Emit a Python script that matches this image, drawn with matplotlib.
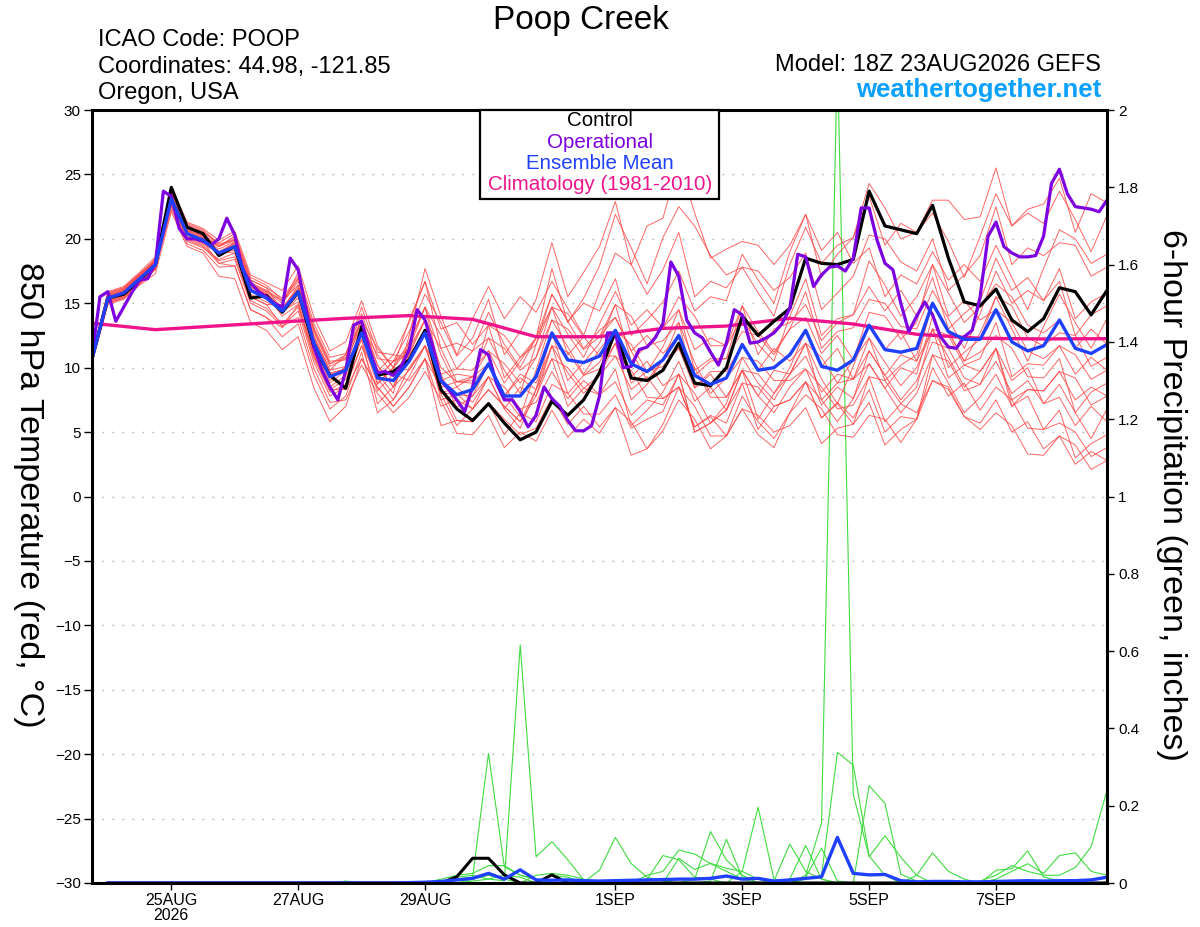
import numpy as np
import pandas as pd
import matplotlib
matplotlib.use("Agg")
import matplotlib.pyplot as plt
from matplotlib.patches import Rectangle

plt.rcParams['font.family'] = ['Liberation Sans', 'DejaVu Sans']

# ---------------- time axes ----------------
start = pd.Timestamp('2026-08-23 18:00')
times6 = pd.date_range(start, periods=65, freq='6h')
times3 = pd.date_range(start, periods=129, freq='3h')
precip_times = times6[1:]
clim_times = pd.date_range(start, periods=17, freq='24h')

tick_dates = pd.to_datetime(['2026-08-25', '2026-08-27', '2026-08-29', '2026-09-01',
                             '2026-09-03', '2026-09-05', '2026-09-07'])
tick_labels = ['25AUG\n2026', '27AUG', '29AUG', '1SEP', '3SEP', '5SEP', '7SEP']

# ---------------- 850 hPa temperature (C) ----------------
ens_mean = [10.7, 15.4, 15.8, 16.9, 18.0, 23.1, 20.4, 19.9, 18.9, 19.4, 16.0, 15.4, 14.4,
            15.9, 11.9, 9.3, 9.8, 12.7, 9.2, 9.0, 10.5, 12.7, 9.0, 7.9, 8.3, 10.3, 7.8, 7.8,
            9.3, 12.7, 10.6, 10.4, 10.9, 12.9, 10.3, 9.7, 10.6, 12.5, 9.4, 8.7, 9.2, 11.8,
            9.8, 10.0, 11.0, 12.9, 10.1, 9.8, 10.6, 13.3, 11.4, 11.2, 11.5, 15.0, 12.8, 12.2,
            12.2, 14.5, 12.0, 11.3, 11.7, 13.7, 11.5, 11.1, 11.8]

control = [10.7, 15.4, 15.7, 16.8, 18.0, 24.0, 20.9, 20.4, 18.7, 19.4, 15.4, 15.6, 14.3,
           15.9, 11.6, 9.4, 8.4, 13.2, 9.4, 9.7, 10.6, 12.9, 8.3, 6.8, 5.9, 7.2, 5.7, 4.4,
           5.0, 7.4, 6.3, 7.5, 9.6, 12.8, 9.2, 9.0, 9.8, 11.9, 8.8, 8.6, 10.0, 14.0, 12.5,
           13.6, 14.6, 18.5, 18.1, 18.0, 18.4, 23.7, 21.0, 20.7, 20.4, 22.6, 18.5, 15.1,
           14.8, 16.1, 13.7, 12.8, 13.8, 16.2, 15.9, 14.1, 16.0]

operational = [10.85, 15.5, 15.9, 13.6, 14.7, 15.8, 16.8, 16.9, 18.1, 23.7, 23.3, 20.8, 20.0,
               20.0, 19.8, 19.5, 20.0, 21.6, 20.3, 17.6, 16.6, 15.9, 15.5, 15.0, 14.7, 18.5,
               17.6, 14.5, 11.6, 9.8, 8.5, 7.5, 9.8, 13.3, 13.6, 11.4, 9.6, 9.7, 9.4, 10.1,
               11.4, 14.5, 13.7, 11.6, 9.0, 8.3, 7.5, 6.6, 8.5, 11.4, 11.0, 8.8, 7.5, 7.5,
               6.6, 5.4, 6.3, 8.5, 7.6, 7.0, 5.9, 5.1, 5.1, 5.5, 7.8, 12.7, 12.7, 10.0, 10.1,
               11.4, 11.6, 12.3, 13.4, 18.2, 17.1, 13.7, 12.7, 12.3, 11.2, 10.2, 11.9, 14.5,
               14.1, 11.9, 12.0, 12.3, 12.7, 13.4, 14.6, 18.8, 18.6, 16.3, 17.2, 17.8, 17.9,
               17.5, 18.5, 22.4, 22.4, 19.9, 18.1, 17.6, 15.0, 12.8, 14.0, 15.1, 14.1, 12.4,
               11.6, 11.5, 12.4, 12.9, 15.5, 20.2, 21.3, 19.4, 18.9, 18.6, 18.6, 18.7, 20.2,
               24.3, 25.4, 23.5, 22.5, 22.4, 22.3, 22.1, 23.0]

climatology = [13.45, 12.95, 13.25, 13.55, 13.83, 14.04, 13.75, 12.4, 12.4, 13.05, 13.23,
               13.83, 13.39, 12.59, 12.28, 12.23, 12.25]

member_01 = [10.9, 15.7, 16.1, 17.2, 18.4, 23.6, 20.9, 20.4, 19.4, 19.9, 16.5, 15.9, 15.2, 16.9, 12.9, 10.3, 11.0, 14.2, 10.7, 10.5, 12.8, 15.7, 13.5, 10.9, 12.3, 15.3, 11.0, 12.8, 15.3, 19.7, 15.5, 17.4, 19.4, 22.9, 18.0, 21.0, 21.6, 26.0, 22.0, 18.5, 19.2, 19.8, 19.5, 18.0, 19.5, 21.9, 17.0, 18.8, 20.1, 23.3, 19.5, 21.2, 20.5, 23.0, 23.0, 21.5, 21.7, 25.5, 21.0, 22.3, 22.7, 24.7, 20.5, 23.5, 22.8]
member_02 = [10.5, 15.2, 15.6, 16.7, 17.7, 22.6, 19.9, 19.4, 18.1, 18.4, 15.0, 14.4, 13.2, 14.4, 10.4, 7.8, 8.5, 11.7, 9.5, 8.0, 12.5, 17.7, 14.0, 11.0, 13.8, 16.3, 13.8, 15.5, 14.3, 16.7, 14.6, 12.5, 15.9, 18.9, 18.0, 15.7, 17.6, 20.5, 15.5, 16.7, 16.2, 17.8, 15.8, 14.0, 18.0, 20.9, 18.1, 19.5, 20.1, 24.3, 22.4, 20.0, 20.5, 22.0, 19.8, 17.0, 20.2, 23.5, 21.0, 22.0, 21.2, 23.7, 21.5, 19.0, 21.8]
member_03 = [11.0, 15.8, 16.2, 17.3, 18.4, 23.9, 21.2, 20.7, 19.6, 19.9, 16.5, 15.9, 15.0, 16.7, 12.7, 10.1, 10.7, 13.7, 10.2, 8.5, 12.0, 14.7, 12.5, 9.9, 9.8, 11.3, 8.8, 10.5, 12.3, 17.7, 13.5, 15.4, 17.9, 21.9, 19.3, 16.5, 20.1, 22.5, 21.0, 18.7, 17.2, 17.8, 17.5, 16.0, 17.0, 18.9, 14.5, 15.8, 17.1, 20.3, 20.0, 18.2, 17.5, 20.0, 16.0, 17.2, 18.7, 22.5, 18.0, 19.3, 18.7, 19.7, 19.5, 17.1, 17.8]
member_04 = [10.4, 15.0, 15.4, 16.5, 17.6, 22.8, 20.1, 19.6, 18.9, 19.7, 16.3, 15.7, 14.3, 15.4, 11.4, 8.8, 9.8, 13.2, 11.0, 9.5, 11.2, 13.7, 10.0, 8.9, 9.0, 13.3, 12.5, 10.8, 12.3, 15.7, 13.6, 15.0, 14.4, 16.9, 12.5, 13.7, 15.1, 17.5, 14.4, 15.5, 15.2, 18.8, 16.8, 15.0, 19.0, 21.9, 19.1, 20.5, 18.1, 19.3, 15.5, 17.2, 16.5, 19.0, 16.8, 18.0, 16.7, 19.5, 17.0, 14.5, 17.7, 20.7, 20.0, 18.1, 18.8]
member_05 = [10.8, 15.6, 16.0, 17.1, 18.2, 23.3, 20.6, 20.1, 19.0, 19.1, 15.7, 15.1, 14.5, 16.4, 12.4, 9.8, 11.0, 14.7, 11.2, 11.0, 13.5, 16.7, 11.5, 11.9, 11.3, 12.3, 11.5, 9.8, 10.8, 13.7, 13.0, 11.4, 12.4, 14.9, 10.5, 11.7, 13.1, 15.5, 14.0, 11.7, 11.7, 13.8, 11.8, 10.5, 14.0, 16.9, 12.5, 13.8, 14.1, 16.3, 14.4, 16.0, 14.0, 17.0, 13.0, 14.2, 15.2, 18.5, 16.0, 17.0, 15.2, 16.7, 12.5, 14.1, 14.8]
member_06 = [10.5, 15.1, 15.5, 16.6, 17.7, 23.4, 20.7, 20.2, 19.4, 20.2, 16.8, 16.2, 15.4, 17.1, 13.1, 10.5, 10.6, 13.2, 9.7, 11.0, 10.8, 12.7, 9.0, 9.5, 9.3, 12.3, 9.8, 8.0, 11.8, 15.7, 13.6, 11.5, 12.9, 13.9, 11.3, 12.5, 11.1, 12.5, 9.4, 10.5, 10.7, 14.8, 11.0, 13.0, 13.5, 14.9, 12.1, 13.5, 14.1, 18.3, 16.4, 14.0, 15.5, 18.0, 15.8, 13.5, 14.7, 16.5, 15.5, 13.3, 12.7, 13.7, 11.5, 13.0, 11.8]
member_07 = [10.8, 15.5, 15.9, 17.0, 17.7, 22.3, 19.6, 19.1, 17.8, 17.9, 14.5, 13.9, 12.4, 13.4, 9.4, 6.8, 7.8, 11.2, 6.5, 7.5, 9.3, 11.7, 8.0, 8.0, 6.8, 8.3, 7.0, 5.8, 8.3, 12.7, 9.0, 10.4, 11.9, 14.9, 14.0, 11.7, 12.1, 13.5, 8.5, 9.7, 9.7, 11.8, 9.8, 11.5, 10.5, 11.9, 7.5, 8.8, 10.6, 14.3, 14.0, 12.2, 13.5, 18.0, 14.0, 15.2, 13.7, 14.5, 13.5, 11.3, 10.7, 11.7, 11.0, 9.1, 9.8]
member_08 = [10.9, 15.9, 16.3, 17.4, 18.6, 23.7, 21.0, 20.5, 19.7, 20.4, 17.0, 16.4, 15.2, 16.4, 12.4, 9.8, 10.1, 12.7, 9.2, 7.5, 10.0, 11.7, 9.5, 6.9, 7.8, 10.3, 7.8, 6.2, 9.8, 13.7, 11.6, 9.5, 11.4, 12.9, 11.8, 9.7, 10.1, 11.5, 8.4, 9.5, 7.7, 9.8, 6.0, 8.0, 10.0, 12.9, 10.1, 11.5, 9.1, 10.3, 8.4, 10.0, 9.5, 14.0, 10.0, 11.2, 12.2, 15.5, 13.0, 10.5, 13.2, 15.7, 13.5, 11.5, 13.8]
member_09 = [10.6, 15.3, 15.7, 16.8, 17.9, 22.9, 20.2, 19.7, 18.9, 19.6, 16.2, 15.6, 14.0, 14.9, 10.9, 8.3, 8.3, 10.7, 8.5, 7.0, 8.5, 10.7, 7.0, 7.5, 6.8, 9.3, 6.8, 8.5, 7.8, 10.7, 7.0, 8.4, 9.4, 11.9, 9.3, 10.5, 8.6, 9.5, 8.0, 5.7, 7.2, 10.8, 8.8, 7.5, 9.5, 10.9, 8.1, 9.5, 9.1, 12.3, 9.0, 10.2, 11.0, 15.0, 12.8, 10.5, 11.2, 12.5, 11.5, 9.3, 9.2, 10.7, 6.5, 8.1, 8.8]
member_10 = [10.7, 15.4, 15.8, 16.9, 18.2, 23.5, 20.8, 20.3, 19.0, 18.9, 15.5, 14.9, 14.9, 17.4, 13.4, 10.8, 11.1, 13.7, 10.2, 8.5, 11.0, 12.7, 7.5, 7.9, 7.8, 9.3, 8.5, 6.8, 7.3, 9.7, 7.6, 9.0, 7.9, 9.9, 5.5, 6.7, 8.1, 10.5, 7.4, 8.5, 6.7, 8.8, 8.5, 7.0, 7.5, 8.9, 7.5, 5.8, 7.6, 11.3, 9.4, 7.5, 9.0, 12.0, 11.5, 9.2, 8.7, 10.5, 8.0, 9.0, 7.2, 8.7, 6.5, 4.5, 6.8]
member_11 = [10.4, 14.9, 15.3, 16.4, 17.3, 22.1, 19.4, 18.9, 17.1, 16.9, 13.5, 12.9, 11.4, 12.4, 8.4, 5.8, 7.0, 10.7, 8.5, 7.0, 8.5, 10.7, 5.5, 5.9, 5.8, 7.3, 4.8, 6.5, 5.8, 8.7, 8.0, 6.4, 6.4, 7.9, 5.3, 6.0, 6.6, 9.5, 5.0, 5.7, 6.7, 9.8, 7.8, 6.5, 8.5, 9.9, 8.5, 6.8, 7.1, 9.3, 9.0, 7.2, 8.5, 13.0, 10.8, 8.5, 9.7, 11.5, 7.5, 8.3, 8.2, 9.7, 7.5, 8.5, 7.8]
member_12 = [10.9, 15.7, 16.1, 17.2, 18.2, 23.2, 20.5, 20.0, 18.9, 19.4, 16.0, 15.4, 14.6, 16.2, 12.2, 9.6, 9.9, 12.2, 8.7, 10.0, 9.8, 11.7, 8.0, 5.5, 6.8, 8.3, 7.0, 5.8, 7.8, 11.7, 9.6, 8.0, 9.4, 10.9, 9.8, 7.7, 7.6, 8.5, 5.4, 6.2, 4.7, 6.8, 4.8, 3.8, 6.5, 8.9, 6.1, 7.2, 5.6, 7.3, 4.0, 5.2, 6.0, 10.0, 7.8, 8.8, 6.7, 8.5, 7.5, 5.3, 5.2, 6.7, 3.0, 4.1, 4.8]
member_13 = [10.5, 15.2, 15.6, 16.7, 18.3, 23.8, 21.1, 20.6, 19.5, 20.0, 16.6, 16.0, 15.2, 16.9, 12.9, 10.3, 10.8, 13.7, 8.8, 10.0, 11.5, 13.7, 11.5, 8.9, 8.8, 10.3, 7.8, 9.2, 8.3, 10.7, 10.0, 8.4, 7.9, 8.9, 6.3, 7.5, 7.1, 9.5, 5.0, 5.7, 6.7, 9.8, 9.5, 8.0, 9.5, 11.9, 9.1, 7.2, 10.1, 13.3, 11.4, 12.8, 10.5, 13.0, 9.2, 10.2, 9.7, 11.5, 9.0, 10.0, 7.2, 7.7, 5.5, 7.0, 5.8]
member_14 = [10.9, 15.6, 16.0, 17.1, 18.1, 22.7, 20.0, 19.5, 18.3, 18.6, 15.2, 14.6, 13.4, 14.7, 10.7, 8.1, 8.7, 11.7, 8.2, 9.5, 9.0, 10.7, 8.5, 5.9, 5.8, 7.3, 6.0, 4.8, 5.3, 7.7, 5.6, 7.0, 5.4, 6.9, 5.8, 3.7, 5.1, 7.5, 6.0, 3.7, 4.7, 7.8, 5.8, 4.5, 6.5, 7.9, 6.8, 4.8, 4.6, 6.3, 6.0, 4.2, 6.0, 11.0, 8.8, 6.5, 7.7, 9.5, 7.0, 7.8, 5.2, 5.7, 5.0, 3.1, 3.8]
member_15 = [10.5, 15.1, 15.5, 16.6, 17.8, 23.1, 20.4, 19.9, 19.0, 19.7, 16.3, 15.7, 14.4, 15.6, 11.6, 9.0, 10.1, 13.7, 11.5, 10.0, 12.0, 14.7, 11.0, 8.5, 9.3, 10.3, 7.8, 9.5, 8.8, 11.7, 8.0, 9.4, 9.9, 11.9, 7.5, 8.7, 10.6, 13.5, 10.4, 8.0, 9.2, 10.8, 10.5, 9.0, 9.0, 9.9, 7.1, 8.5, 7.6, 10.3, 8.4, 6.5, 8.0, 11.0, 10.5, 8.2, 8.7, 11.5, 7.0, 8.3, 8.2, 9.7, 9.2, 7.1, 7.8]
member_16 = [10.8, 15.5, 15.9, 17.0, 18.5, 24.0, 21.3, 20.8, 19.9, 20.6, 17.2, 16.6, 16.0, 17.9, 13.9, 11.3, 12.0, 15.2, 11.7, 10.0, 13.7, 16.7, 13.0, 13.5, 11.8, 13.3, 9.2, 10.8, 11.8, 14.7, 14.2, 12.4, 12.4, 13.9, 11.3, 9.0, 10.6, 11.5, 10.0, 7.7, 7.7, 9.8, 7.8, 9.8, 9.5, 11.9, 10.8, 8.8, 9.1, 11.3, 9.4, 11.0, 10.5, 15.0, 12.8, 10.5, 12.7, 15.5, 14.8, 12.3, 11.7, 12.7, 12.5, 10.1, 10.8]
member_17 = [10.6, 15.4, 15.8, 16.9, 17.7, 22.5, 19.8, 19.3, 18.4, 18.9, 15.5, 14.9, 13.2, 13.9, 9.9, 7.3, 7.5, 10.2, 8.0, 6.5, 7.7, 9.7, 7.5, 4.9, 4.8, 6.3, 3.8, 5.0, 4.3, 6.7, 4.6, 6.0, 4.9, 6.9, 3.2, 3.7, 5.6, 8.5, 5.4, 6.3, 5.7, 8.8, 5.2, 7.0, 7.5, 8.9, 6.1, 7.3, 6.1, 8.3, 5.0, 6.2, 6.0, 9.0, 8.3, 6.2, 5.7, 7.5, 5.0, 5.8, 3.7, 4.7, 2.5, 3.5, 2.8]
member_18 = [10.9, 15.8, 16.2, 17.3, 18.3, 23.3, 20.6, 20.1, 19.2, 19.8, 16.4, 15.8, 14.7, 16.1, 12.1, 9.5, 9.9, 12.7, 9.2, 10.5, 11.0, 13.7, 8.5, 8.9, 9.3, 11.3, 10.3, 8.8, 10.8, 14.7, 12.6, 10.8, 13.4, 15.9, 13.3, 14.5, 13.1, 14.5, 9.8, 10.7, 10.7, 12.8, 12.5, 11.0, 13.0, 15.9, 11.5, 12.8, 13.1, 15.3, 15.0, 13.2, 13.0, 16.0, 13.8, 11.5, 14.2, 17.5, 15.0, 16.0, 15.2, 17.7, 13.8, 15.1, 15.8]
member_19 = [10.3, 15.0, 15.4, 16.5, 17.7, 23.0, 20.3, 19.8, 18.1, 17.9, 14.5, 13.9, 13.1, 14.9, 10.9, 8.3, 9.1, 12.2, 7.2, 8.5, 9.8, 11.7, 8.0, 8.5, 7.3, 9.3, 6.8, 5.3, 8.3, 11.7, 11.2, 9.4, 10.4, 12.9, 8.8, 9.7, 11.6, 14.5, 11.4, 12.3, 11.7, 14.8, 12.8, 11.2, 13.0, 13.9, 11.1, 12.5, 10.6, 12.3, 10.4, 8.6, 10.0, 13.0, 12.5, 10.2, 10.7, 13.5, 9.3, 10.3, 10.2, 11.7, 9.5, 10.8, 9.8]
member_20 = [10.9, 15.6, 16.0, 17.1, 18.3, 23.4, 20.7, 20.2, 19.4, 20.2, 16.8, 16.2, 14.4, 15.1, 11.1, 8.5, 9.4, 12.7, 9.2, 10.5, 11.5, 14.7, 9.5, 9.9, 11.3, 14.3, 11.8, 10.0, 12.3, 14.7, 11.0, 12.4, 10.9, 10.9, 8.3, 9.3, 7.6, 8.5, 7.0, 4.7, 4.7, 6.8, 6.3, 5.0, 5.5, 6.9, 4.1, 5.3, 5.6, 9.3, 5.8, 7.2, 6.5, 9.0, 8.5, 6.2, 5.2, 6.5, 5.5, 3.3, 3.2, 4.7, 4.0, 2.1, 2.8]

members = [member_01, member_02, member_03, member_04, member_05, member_06, member_07,
           member_08, member_09, member_10, member_11, member_12, member_13, member_14,
           member_15, member_16, member_17, member_18, member_19, member_20]

# ---------------- 6-hour precipitation (inches), steps 1..64 ----------------
precip_mean = [0.0] * 19 + [0.001, 0.002, 0.004, 0.008, 0.012, 0.025, 0.010, 0.034, 0.008,
               0.007, 0.008, 0.006, 0.005, 0.006, 0.007, 0.008, 0.009, 0.010, 0.010, 0.012,
               0.018, 0.010, 0.012, 0.005, 0.008, 0.012, 0.016, 0.118, 0.025, 0.021, 0.022,
               0.006, 0.003, 0.004, 0.004, 0.003, 0.003, 0.004, 0.005, 0.006, 0.005, 0.006,
               0.006, 0.008, 0.015]
precip_control_nonzero = {23: 0.016, 24: 0.064, 25: 0.064, 26: 0.021, 29: 0.021}

# nonzero 6-h totals for each ensemble member, keyed by forecast step (6 h each)
precip_members_nonzero = [
    {24: 0.005, 25: 0.01, 26: 0.006, 27: 0.616, 28: 0.068, 29: 0.107, 30: 0.06, 31: 0.008, 32: 0.004},
    {22: 0.004, 23: 0.01, 24: 0.015, 25: 0.335, 26: 0.042, 27: 0.02, 28: 0.01},
    {22: 0.01, 23: 0.02, 24: 0.025, 25: 0.045, 26: 0.045, 27: 0.02, 28: 0.01},
    {23: 0.015, 24: 0.02, 25: 0.01, 26: 0.02, 27: 0.015, 29: 0.02, 30: 0.015},
    {24: 0.01, 25: 0.02, 26: 0.01, 28: 0.02, 29: 0.025, 30: 0.02, 31: 0.01},
    {31: 0.002, 32: 0.033, 33: 0.118, 34: 0.05, 35: 0.015, 36: 0.005},
    {35: 0.01, 36: 0.071, 37: 0.06, 38: 0.015, 39: 0.01},
    {35: 0.02, 36: 0.03, 37: 0.085, 38: 0.075, 39: 0.05, 40: 0.03, 41: 0.01},
    {37: 0.064, 38: 0.035, 39: 0.051, 40: 0.038, 41: 0.03, 42: 0.01},
    {38: 0.01, 39: 0.133, 40: 0.06, 41: 0.02},
    {39: 0.005, 40: 0.113, 41: 0.015, 42: 0.01},
    {41: 0.03, 42: 0.196, 43: 0.01},
    {43: 0.005, 44: 0.101, 45: 0.03, 46: 0.01},
    {44: 0.01, 45: 0.097, 46: 0.01},
    {45: 0.02, 46: 0.155, 47: 2.15, 48: 0.23, 49: 0.068, 50: 0.122, 51: 0.067, 52: 0.02},
    {45: 0.01, 46: 0.02, 47: 0.338, 48: 0.305, 49: 0.07, 50: 0.02},
    {45: 0.015, 46: 0.09, 47: 0.005, 49: 0.252, 50: 0.206, 51: 0.023, 52: 0.005},
    {52: 0.02, 53: 0.078, 54: 0.03, 55: 0.01, 57: 0.033, 58: 0.037, 59: 0.083, 60: 0.016, 61: 0.005},
    {56: 0.005, 57: 0.02, 58: 0.045, 59: 0.03, 60: 0.02, 61: 0.02, 62: 0.04, 63: 0.094, 64: 0.24},
    {16: 0.005, 57: 0.01, 58: 0.03, 59: 0.05, 60: 0.025, 61: 0.071, 62: 0.078, 63: 0.03, 64: 0.02},
]


def steps_to_series(nonzero):
    vals = np.zeros(64)
    for step, v in nonzero.items():
        vals[step - 1] = v
    return vals


# ---------------- colours ----------------
C_RED = '#ff4a4a'
C_GREEN = '#3fdc3f'
C_PURPLE = '#7d00e0'
C_BLUE = '#2040ff'
C_PINK = '#f0148c'
C_WEB = '#0aa0ff'

fig = plt.figure(figsize=(12, 9.27), dpi=100)
rect = [92 / 1200, 1 - 883 / 927, (1107 - 92) / 1200, (883 - 110) / 927]
ax = fig.add_axes(rect)
ax2 = ax.twinx()
ax.set_zorder(ax2.get_zorder() + 1)
ax.patch.set_visible(False)
ax2.patch.set_visible(False)

# precipitation (right axis)
for nz in precip_members_nonzero:
    ax2.plot(precip_times, steps_to_series(nz), color=C_GREEN, lw=0.8)
ax2.plot(precip_times, steps_to_series(precip_control_nonzero), color='black', lw=2.2)
ax2.plot(precip_times, precip_mean, color=C_BLUE, lw=2.4)
ax2.set_ylim(0, 2)
ax2.set_yticks(np.arange(0, 2.01, 0.2))
ax2.set_yticklabels(['0', '0.2', '0.4', '0.6', '0.8', '1', '1.2', '1.4', '1.6', '1.8', '2'])
for s in ax2.spines.values():
    s.set_visible(False)
ax2.tick_params(axis='y', direction='out', length=5, width=1, labelsize=11, pad=3)

# temperatures (left axis)
for m in members:
    ax.plot(times6, m, color=C_RED, lw=0.7, alpha=0.85)
ax.plot(clim_times, climatology, color=C_PINK, lw=2.4)
ax.plot(times6, control, color='black', lw=2.3)
ax.plot(times3, operational, color=C_PURPLE, lw=2.3)
ax.plot(times6, ens_mean, color=C_BLUE, lw=2.4)

ax.set_ylim(-30, 30)
ax.set_yticks(np.arange(-30, 31, 5))
ax.set_xlim(times6[0], times6[-1])
ax.set_xticks(tick_dates)
ax.set_xticklabels(tick_labels, linespacing=1.05)
ax.tick_params(axis='y', direction='out', length=6, width=1, labelsize=11, pad=2)
ax.tick_params(axis='x', direction='out', length=5, width=1, labelsize=11.5, pad=2)
for y in np.arange(-25, 26, 5):
    ax.axhline(y, color='#b4b4b4', lw=1.0, ls=(0, (1.2, 6)), zorder=0.5)
for s in ax.spines.values():
    s.set_linewidth(2.2)
    s.set_color('black')

# axis titles
fig.text(28 / 1200, 1 - 495 / 927, '850 hPa Temperature (red, °C)', rotation=270,
         ha='center', va='center', fontsize=24.5)
fig.text(1172 / 1200, 1 - 495 / 927, '6-hour Precipitation (green, inches)', rotation=270,
         ha='center', va='center', fontsize=24.5)

# header
fig.text(581 / 1200, 1 - 29.5 / 927, 'Poop Creek', ha='center', va='baseline', fontsize=24)
fig.text(98 / 1200, 1 - 46.5 / 927, 'ICAO Code: POOP', ha='left', va='baseline', fontsize=17)
fig.text(98 / 1200, 1 - 73 / 927, 'Coordinates: 44.98, -121.85', ha='left', va='baseline', fontsize=17)
fig.text(98 / 1200, 1 - 99.5 / 927, 'Oregon, USA', ha='left', va='baseline', fontsize=17)
fig.text(1101 / 1200, 1 - 71 / 927, 'Model: 18Z 23AUG2026 GEFS', ha='right', va='baseline', fontsize=17)
fig.text(1101 / 1200, 1 - 97 / 927, 'weathertogether.net', ha='right', va='baseline',
         fontsize=18.5, fontweight='bold', color=C_WEB)

# legend box
fig.add_artist(Rectangle((480 / 1200, 1 - 199 / 927), 239 / 1200, 89 / 927,
                         transform=fig.transFigure, facecolor='white', edgecolor='black',
                         lw=1.6, zorder=10))
legend_items = [('Control', 'black'), ('Operational', C_PURPLE),
                ('Ensemble Mean', C_BLUE), ('Climatology (1981-2010)', C_PINK)]
for i, (lab, col) in enumerate(legend_items):
    fig.text(600 / 1200, 1 - (121 + 21.3 * i) / 927, lab, ha='center', va='center',
             fontsize=14.8, color=col, zorder=11)

fig.savefig('out.png', dpi=100)
